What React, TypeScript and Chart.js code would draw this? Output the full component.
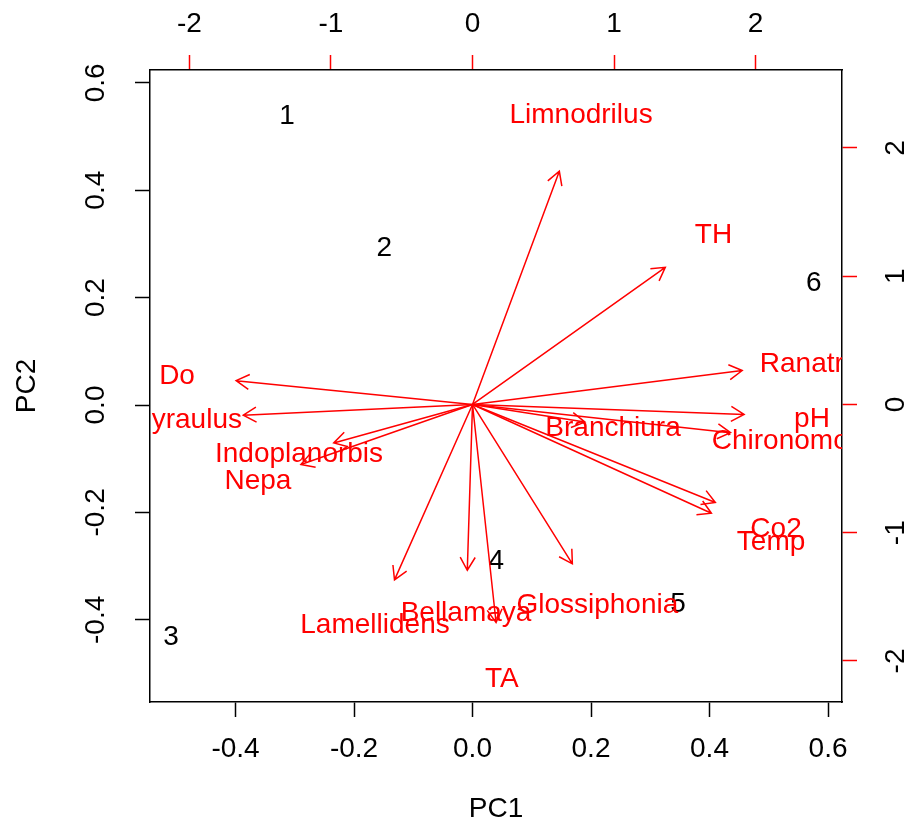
import React, { useEffect, useRef } from "react";
import { Chart, registerables } from "chart.js";
Chart.register(...registerables);

// Observation scores (PC1 / PC2, bottom & left axes)
const obsLabels = ["1", "2", "3", "4", "5", "6"];
const obsPC1 = [-0.313, -0.149, -0.509, 0.04, 0.347, 0.576];
const obsPC2 = [0.54, 0.294, -0.43, -0.289, -0.369, 0.229];

// Variable loadings (top & right axes)
const varLabels = [
  "Limnodrilus", "TH", "Ranatra", "pH", "Chironomous", "Co2", "Temp", "Branchiura",
  "Glossiphonia", "TA", "Bellamaya", "Lamellidens", "Nepa", "Indoplanorbis", "Gyraulus", "Do",
];
const varPC1 = [0.767, 1.703, 2.382, 2.399, 2.279, 2.145, 2.11, 0.993, 0.882, 0.208, -0.046, -0.689, -1.516, -1.226, -2.025, -2.088];
const varPC2 = [2.273, 1.337, 0.331, -0.097, -0.275, -0.955, -1.06, -0.172, -1.553, -2.125, -1.616, -1.71, -0.585, -0.375, -0.105, 0.232];

// Axis ranges
const pc1Range = [-0.5443, 0.6236];
const pc2Range = [-0.553, 0.6238];
const loadXRange = [-2.279, 2.611];
const loadYRange = [-2.32, 2.608];
const arrowScale = 0.8;

const FONT = '"Liberation Sans", Arial, sans-serif';
const RED = "#FF0000";

export default function App() {
  const ref = useRef<HTMLCanvasElement>(null);

  useEffect(() => {
    document.body.style.margin = "0";
    const canvas = ref.current!;
    const font = { family: FONT, size: 28 };

    const biplotPlugin = {
      id: "biplot",
      afterDatasetsDraw(chart: any) {
        const { ctx, chartArea: a, scales } = chart;
        const lx = scales.x2;
        const ly = scales.y2;
        ctx.save();
        ctx.beginPath();
        ctx.rect(a.left, a.top, a.right - a.left, a.bottom - a.top);
        ctx.clip();
        ctx.font = `28px ${FONT}`;
        ctx.textAlign = "center";
        ctx.textBaseline = "middle";
        const dy = 2;

        // black observation labels
        ctx.fillStyle = "#000000";
        const m0 = chart.getDatasetMeta(0);
        m0.data.forEach((pt: any, i: number) => ctx.fillText(obsLabels[i], pt.x, pt.y + 1));

        // red variable labels
        ctx.fillStyle = RED;
        const m1 = chart.getDatasetMeta(1);
        m1.data.forEach((pt: any, i: number) => ctx.fillText(varLabels[i], pt.x, pt.y + dy));

        // arrows
        const ox = lx.getPixelForValue(0);
        const oy = ly.getPixelForValue(0);
        ctx.strokeStyle = RED;
        ctx.lineWidth = 1.5;
        const head = 15;
        const ang = Math.PI / 6;
        for (let i = 0; i < varLabels.length; i++) {
          const tx = lx.getPixelForValue(varPC1[i] * arrowScale);
          const ty = ly.getPixelForValue(varPC2[i] * arrowScale);
          ctx.beginPath();
          ctx.moveTo(ox, oy);
          ctx.lineTo(tx, ty);
          const th = Math.atan2(ty - oy, tx - ox);
          ctx.moveTo(tx - head * Math.cos(th - ang), ty - head * Math.sin(th - ang));
          ctx.lineTo(tx, ty);
          ctx.lineTo(tx - head * Math.cos(th + ang), ty - head * Math.sin(th + ang));
          ctx.stroke();
        }
        ctx.restore();
      },
    };

    const fmt1 = (v: any) => {
      const n = Number(v);
      return Math.abs(n) < 1e-9 ? "0.0" : n.toFixed(1);
    };
    const fmt0 = (v: any) => {
      const n = Number(v);
      return Math.abs(n) < 1e-9 ? "0" : String(Math.round(n));
    };

    const chart = new Chart(canvas, {
      type: "scatter",
      data: {
        datasets: [
          {
            data: obsPC1.map((x, i) => ({ x, y: obsPC2[i] })),
            xAxisID: "x",
            yAxisID: "y",
            pointRadius: 0,
            pointHoverRadius: 0,
          },
          {
            data: varPC1.map((x, i) => ({ x, y: varPC2[i] })),
            xAxisID: "x2",
            yAxisID: "y2",
            pointRadius: 0,
            pointHoverRadius: 0,
          },
        ],
      },
      options: {
        animation: false,
        responsive: true,
        maintainAspectRatio: false,
        events: [],
        layout: { padding: 0 },
        plugins: { legend: { display: false }, tooltip: { enabled: false } },
        scales: {
          x: {
            type: "linear",
            position: "bottom",
            min: pc1Range[0],
            max: pc1Range[1],
            afterFit: (s: any) => { s.height = 127; },
            ticks: { stepSize: 0.2, includeBounds: false, callback: fmt1, font, color: "#000", padding: 15, maxRotation: 0, autoSkip: false },
            grid: { drawOnChartArea: false, drawTicks: true, tickLength: 15, tickColor: "#000", tickWidth: 1.5 },
            border: { display: true, color: "#000", width: 1.5 },
            title: { display: true, text: "PC1", font, color: "#000", padding: { top: 0, bottom: 3 } },
          },
          y: {
            type: "linear",
            position: "left",
            min: pc2Range[0],
            max: pc2Range[1],
            afterFit: (s: any) => { s.width = 150; },
            ticks: { stepSize: 0.2, includeBounds: false, callback: fmt1, font, color: "#000", padding: 15, minRotation: 90, maxRotation: 90, crossAlign: "center", autoSkip: false },
            grid: { drawOnChartArea: false, drawTicks: true, tickLength: 15, tickColor: "#000", tickWidth: 1.5 },
            border: { display: true, color: "#000", width: 1.5 },
            title: { display: true, text: "PC2", font, color: "#000", padding: { top: 10, bottom: 0 } },
          },
          x2: {
            type: "linear",
            position: "top",
            min: loadXRange[0],
            max: loadXRange[1],
            afterFit: (s: any) => { s.height = 70; },
            ticks: { stepSize: 1, includeBounds: false, callback: fmt0, font, color: "#000", padding: 14, maxRotation: 0, autoSkip: false },
            grid: { drawOnChartArea: false, drawTicks: true, tickLength: 15, tickColor: RED, tickWidth: 1.5 },
            border: { display: true, color: "#000", width: 1.5 },
          },
          y2: {
            type: "linear",
            position: "right",
            min: loadYRange[0],
            max: loadYRange[1],
            afterFit: (s: any) => { s.width = 67; },
            ticks: { stepSize: 1, includeBounds: false, callback: fmt0, font, color: "#000", padding: 27, minRotation: 90, maxRotation: 90, crossAlign: "center", autoSkip: false },
            grid: { drawOnChartArea: false, drawTicks: true, tickLength: 15, tickColor: RED, tickWidth: 1.5 },
            border: { display: true, color: "#000", width: 1.5 },
          },
        },
      },
      plugins: [biplotPlugin],
    } as any);

    return () => chart.destroy();
  }, []);

  return (
    <div style={{ width: 909, height: 829, position: "relative", background: "#fff" }}>
      <canvas ref={ref} />
    </div>
  );
}
